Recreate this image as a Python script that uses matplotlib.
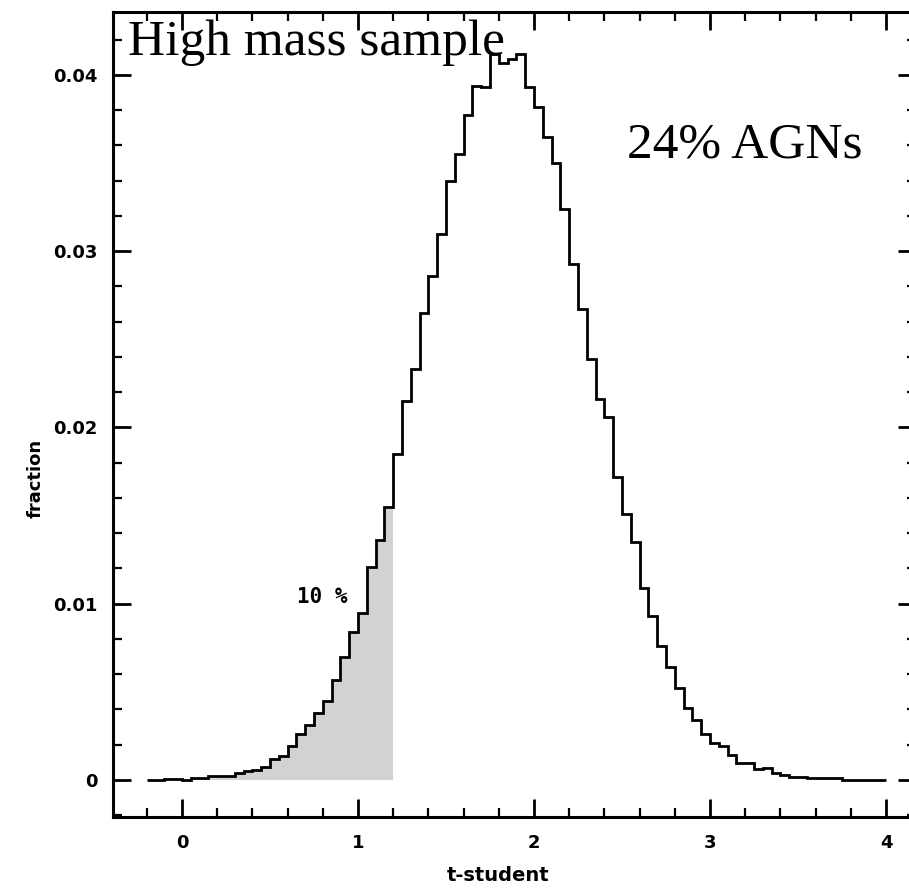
import numpy as np
import matplotlib
matplotlib.use('Agg')
import matplotlib.pyplot as plt
from matplotlib.ticker import MultipleLocator, FixedLocator, FixedFormatter

bin_start = -0.2
bin_width = 0.05
fractions = [
    0.0, 0.0, 0.00005, 0.00005, 0.00002, 0.00013, 0.00013, 0.00023, 0.00023, 0.00023,
    0.0004, 0.00053, 0.00055, 0.00076, 0.0012, 0.00136, 0.0019, 0.0026, 0.0031, 0.0038,
    0.0045, 0.0057, 0.0070, 0.0084, 0.0095, 0.0121, 0.0136, 0.0155, 0.0185, 0.0215,
    0.0233, 0.0265, 0.0286, 0.0310, 0.0340, 0.0355, 0.0377, 0.0394, 0.0393, 0.0412,
    0.0407, 0.0409, 0.0412, 0.0393, 0.0382, 0.0365, 0.0350, 0.0324, 0.0293, 0.0267,
    0.0239, 0.0216, 0.0206, 0.0172, 0.0151, 0.0135, 0.0109, 0.0093, 0.0076, 0.0064,
    0.0052, 0.0041, 0.0034, 0.0026, 0.0021, 0.0019, 0.0014, 0.00095, 0.00095, 0.0006,
    0.0007, 0.00038, 0.00028, 0.00015, 0.00015, 0.0001, 0.0001, 0.0001, 0.0001, 0.00002,
    0.00002, 0.00002, 0.00002, 0.00002,
]
shade_limit = 1.2
xticks = [0, 1, 2, 3, 4]
yticks = [0, 0.01, 0.02, 0.03, 0.04]
ytick_labels = ['0', '0.01', '0.02', '0.03', '0.04']

values = np.array(fractions)
edges = bin_start + bin_width * np.arange(len(values) + 1)
n_shade = int(round((shade_limit - bin_start) / bin_width))

W, H = 909, 888
fig = plt.figure(figsize=(W / 100, H / 100), dpi=100)
ax = fig.add_axes([113 / W, 71 / H, (916 - 113) / W, (817 - 12) / H])

ax.stairs(values[:n_shade], edges[:n_shade + 1], fill=True, color='#d2d2d2', lw=0)
ax.stairs(values, edges, baseline=None, color='black', lw=2.0)

ax.set_xlim(-0.392, 4.17)
ax.set_ylim(-0.0021, 0.04357)

ax.xaxis.set_major_locator(FixedLocator(xticks))
ax.xaxis.set_minor_locator(MultipleLocator(0.2))
ax.yaxis.set_major_locator(FixedLocator(yticks))
ax.yaxis.set_major_formatter(FixedFormatter(ytick_labels))
ax.yaxis.set_minor_locator(MultipleLocator(0.002))

ax.tick_params(which='both', direction='in', top=True, right=True, width=1.6, colors='black')
ax.tick_params(which='major', length=13, width=2.0)
ax.tick_params(which='minor', length=6.5)
ax.tick_params(axis='x', which='major', pad=12, labelsize=13)
ax.tick_params(axis='y', which='major', pad=11, labelsize=13)
for lab in ax.get_xticklabels() + ax.get_yticklabels():
    lab.set_fontweight('bold')

for s in ax.spines.values():
    s.set_linewidth(2.2)

ax.set_xlabel('t-student', fontsize=14, fontweight='bold')
ax.xaxis.set_label_coords((498 - 113) / (916 - 113), -0.061)
ax.set_ylabel('fraction', fontsize=13, fontweight='bold')
ax.yaxis.set_label_coords(-0.085, 0.42)

ax.text(0.795, 0.0104, '10 %', fontsize=15, fontweight='bold', ha='center', va='center',
        family='DejaVu Sans Mono')
fig.text(128 / W, 1 - 55 / H, 'High mass sample', fontsize=37,
         family='Liberation Serif', va='baseline')
fig.text(627 / W, 1 - 157 / H, '24% AGNs', fontsize=37,
         family='Liberation Serif', va='baseline')

fig.savefig('out.png', dpi=100)
